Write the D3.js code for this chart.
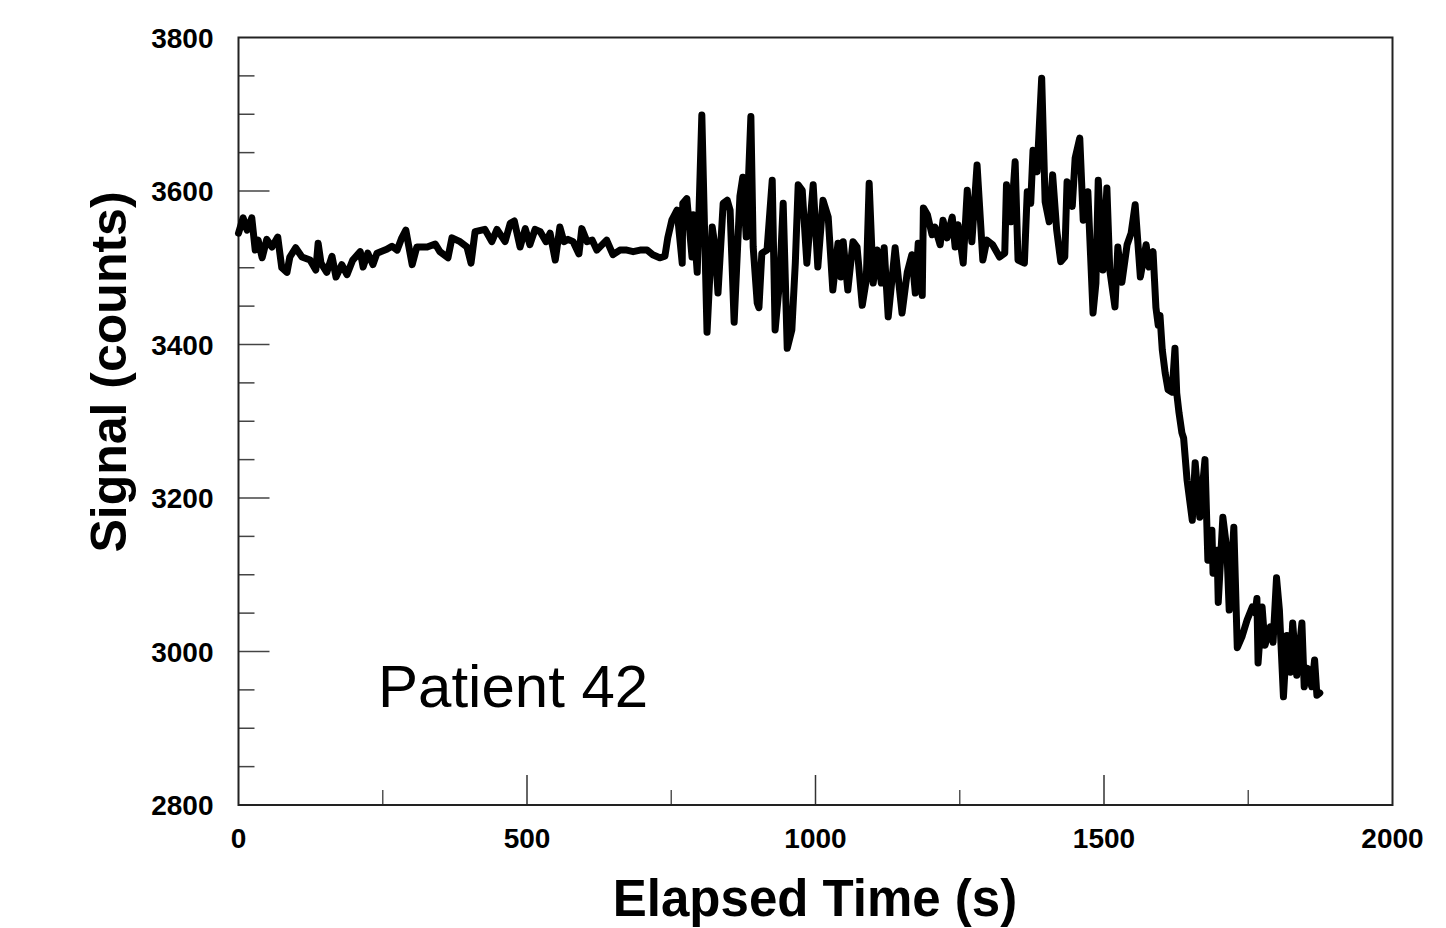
<!DOCTYPE html>
<html>
<head>
<meta charset="utf-8">
<script src="https://cdn.jsdelivr.net/npm/d3@7"></script>
<style>
  body { margin: 0; background: #fff; }
  svg text { font-family: "Liberation Sans", Arial, sans-serif; }
</style>
</head>
<body>
<div id="chart"></div>
<script>
// temps (s) et signal (counts)
var temps = [
  0, 8, 15, 23, 29, 34, 41, 49, 58, 68, 75, 84, 89, 99, 110, 124, 134, 138, 143, 153,
  162, 169, 179, 188, 198, 211, 216, 224, 233, 240, 257, 266, 275, 283, 290, 301, 309, 327, 341, 349,
  363, 370, 384, 396, 403, 410, 427, 439, 448, 462, 471, 478, 488, 497, 505, 514, 523, 533, 540, 549,
  557, 564, 571, 580, 590, 595, 604, 613, 621, 638, 649, 661, 673, 684, 696, 708, 718, 730, 739, 744,
  751, 760, 769, 770, 777, 786, 788, 795, 803, 812, 821, 826, 831, 840, 847, 852, 859, 869, 874, 880,
  888, 892, 899, 902, 907, 916, 925, 930, 938, 944, 951, 959, 965, 970, 977, 985, 996, 1004, 1013, 1022,
  1030, 1039, 1044, 1048, 1056, 1065, 1072, 1081, 1088, 1093, 1100, 1107, 1114, 1119, 1126, 1138, 1150, 1159, 1167, 1173,
  1178, 1185, 1187, 1194, 1202, 1207, 1216, 1221, 1228, 1237, 1242, 1247, 1256, 1263, 1271, 1280, 1290, 1297, 1307, 1319,
  1328, 1331, 1339, 1346, 1351, 1362, 1367, 1373, 1377, 1384, 1392, 1398, 1405, 1411, 1418, 1425, 1432, 1436, 1445, 1450,
  1458, 1464, 1472, 1481, 1486, 1490, 1498, 1505, 1510, 1519, 1524, 1531, 1540, 1547, 1554, 1563, 1573, 1578, 1585, 1590,
  1594, 1597, 1601, 1606, 1611, 1618, 1623, 1626, 1630, 1635, 1638, 1644, 1653, 1658, 1666, 1675, 1680, 1687, 1689, 1696,
  1698, 1706, 1713, 1717, 1725, 1731, 1739, 1748, 1757, 1762, 1765, 1767, 1774, 1779, 1788, 1793, 1799, 1804, 1811, 1817,
  1823, 1827, 1834, 1843, 1847, 1853, 1860, 1865, 1869, 1874
];
var signal = [
  3545, 3565, 3549, 3565, 3523, 3536, 3513, 3537, 3527, 3540, 3500, 3494, 3514, 3526, 3514, 3510, 3497, 3532, 3506, 3494,
  3515, 3488, 3504, 3491, 3510, 3521, 3501, 3519, 3504, 3519, 3524, 3528, 3523, 3539, 3549, 3504, 3527, 3527, 3531, 3521,
  3513, 3539, 3534, 3527, 3506, 3547, 3550, 3534, 3550, 3534, 3558, 3561, 3527, 3551, 3530, 3550, 3547, 3534, 3545, 3510,
  3553, 3534, 3537, 3534, 3518, 3551, 3534, 3536, 3523, 3536, 3517, 3523, 3523, 3521, 3523, 3523, 3517, 3513, 3515, 3539,
  3562, 3575, 3506, 3584, 3590, 3514, 3569, 3494, 3699, 3416, 3553, 3527, 3467, 3584, 3588, 3575, 3429, 3593, 3618, 3540,
  3697, 3527, 3454, 3448, 3519, 3523, 3614, 3419, 3484, 3584, 3395, 3419, 3506, 3608, 3601, 3506, 3608, 3501, 3588, 3566,
  3471, 3532, 3488, 3534, 3471, 3534, 3527, 3451, 3484, 3610, 3480, 3523, 3480, 3526, 3436, 3526, 3441, 3494, 3517, 3467,
  3532, 3464, 3578, 3569, 3543, 3553, 3530, 3562, 3539, 3566, 3527, 3556, 3506, 3601, 3534, 3634, 3510, 3536, 3530, 3514,
  3519, 3608, 3560, 3638, 3510, 3506, 3599, 3584, 3653, 3625, 3747, 3586, 3560, 3621, 3549, 3508, 3514, 3612, 3580, 3643,
  3669, 3562, 3599, 3441, 3480, 3614, 3497, 3604, 3497, 3449, 3527, 3481, 3530, 3545, 3582, 3488, 3530, 3501, 3521, 3448,
  3425, 3438, 3393, 3363, 3341, 3338, 3395, 3337, 3311, 3285, 3278, 3223, 3171, 3246, 3175, 3250, 3119, 3158, 3102, 3132,
  3064, 3175, 3132, 3054, 3162, 3005, 3019, 3041, 3058, 3050, 3069, 2985, 3058, 3008, 3032, 3012, 3096, 3054, 2941, 3021,
  2973, 3037, 2969, 3037, 2954, 2978, 2954, 2989, 2943, 2946
];
var xTicksLabels = [0, 500, 1000, 1500, 2000];
var yTicksLabels = [2800, 3000, 3200, 3400, 3600, 3800];

var donnees = temps.map(function (t, i) {
  return { t: t, v: signal[i] };
});

// Dimensions
var width = 1446;
var height = 928;
var margin = { top: 37.5, right: 53.5, bottom: 123, left: 238.5 };
var innerW = width - margin.left - margin.right;
var innerH = height - margin.top - margin.bottom;

var svg = d3
  .select("#chart")
  .append("svg")
  .attr("width", width)
  .attr("height", height);

var g = svg
  .append("g")
  .attr("transform", "translate(" + margin.left + "," + margin.top + ")");

var x = d3.scaleLinear().domain([0, 2000]).range([0, innerW]);
var y = d3.scaleLinear().domain([2800, 3800]).range([innerH, 0]);

// ticks intérieurs : majeurs et mineurs
var xMinor = d3.range(250, 2000, 500);
var xMajor = [500, 1000, 1500];
var yMinor = d3.range(2850, 3800, 50).filter(function (d) {
  return d % 200 != 0;
});
var yMajor = [3000, 3200, 3400, 3600];

g.selectAll(".xminor")
  .data(xMinor)
  .enter()
  .append("line")
  .attr("x1", function (d) { return x(d); })
  .attr("x2", function (d) { return x(d); })
  .attr("y1", innerH)
  .attr("y2", innerH - 15)
  .attr("stroke", "#555")
  .attr("stroke-width", 1.5);

g.selectAll(".xmajor")
  .data(xMajor)
  .enter()
  .append("line")
  .attr("x1", function (d) { return x(d); })
  .attr("x2", function (d) { return x(d); })
  .attr("y1", innerH)
  .attr("y2", innerH - 30)
  .attr("stroke", "#333")
  .attr("stroke-width", 1.5);

g.selectAll(".yminor")
  .data(yMinor)
  .enter()
  .append("line")
  .attr("x1", 0)
  .attr("x2", 16)
  .attr("y1", function (d) { return y(d); })
  .attr("y2", function (d) { return y(d); })
  .attr("stroke", "#444")
  .attr("stroke-width", 1.5);

g.selectAll(".ymajor")
  .data(yMajor)
  .enter()
  .append("line")
  .attr("x1", 0)
  .attr("x2", 31)
  .attr("y1", function (d) { return y(d); })
  .attr("y2", function (d) { return y(d); })
  .attr("stroke", "#444")
  .attr("stroke-width", 1.5);

// cadre
g.append("rect")
  .attr("width", innerW)
  .attr("height", innerH)
  .attr("fill", "none")
  .attr("stroke", "#222")
  .attr("stroke-width", 2);

// étiquettes des axes
g.selectAll(".xlab")
  .data(xTicksLabels)
  .enter()
  .append("text")
  .attr("x", function (d) { return x(d); })
  .attr("y", innerH + 43)
  .attr("text-anchor", "middle")
  .style("font-size", "28px")
  .style("font-weight", "bold")
  .text(function (d) { return d; });

g.selectAll(".ylab")
  .data(yTicksLabels)
  .enter()
  .append("text")
  .attr("x", -25)
  .attr("y", function (d) { return y(d); })
  .attr("dy", "0.36em")
  .attr("text-anchor", "end")
  .style("font-size", "28px")
  .style("font-weight", "bold")
  .text(function (d) { return d; });

// la courbe
var line = d3
  .line()
  .x(function (d) { return x(d.t); })
  .y(function (d) { return y(d.v); });

g.append("path")
  .datum(donnees)
  .attr("d", line)
  .attr("fill", "none")
  .attr("stroke", "#000")
  .attr("stroke-width", 7)
  .attr("stroke-linejoin", "round")
  .attr("stroke-linecap", "round");

// titres
svg.append("text")
  .attr("x", 815)
  .attr("y", 916)
  .attr("text-anchor", "middle")
  .style("font-size", "51px")
  .style("font-weight", "bold")
  .text("Elapsed Time (s)");

svg.append("text")
  .attr("transform", "translate(126," + 372 + ") rotate(-90)")
  .attr("text-anchor", "middle")
  .style("font-size", "50px")
  .style("font-weight", "bold")
  .text("Signal (counts)");

svg.append("text")
  .attr("x", 378)
  .attr("y", 707)
  .style("font-size", "60px")
  .text("Patient 42");
</script>
</body>
</html>
